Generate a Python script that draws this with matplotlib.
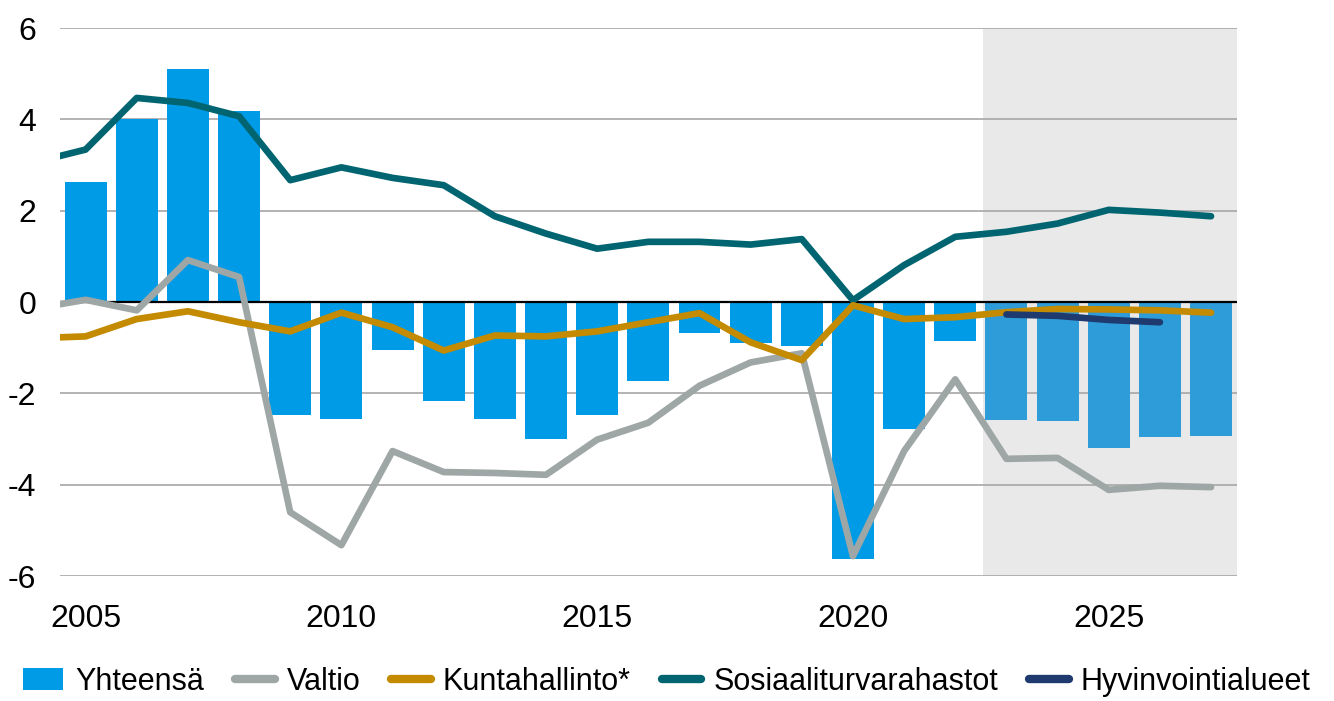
import matplotlib.pyplot as plt
import numpy as np
from matplotlib.patches import Patch
from matplotlib.lines import Line2D

plt.rcParams['font.family'] = ['Liberation Sans', 'DejaVu Sans']

# bars: Yhteensä 2005-2027
bar_years = list(range(2005, 2028))
yhteensa = [2.64, 4.0, 5.1, 4.18, -2.48, -2.56, -1.05, -2.17, -2.56, -3.0,
            -2.46, -1.73, -0.68, -0.90, -0.97, -5.63, -2.77, -0.86,
            -2.59, -2.60, -3.19, -2.95, -2.94]

# lines 2004-2027
line_years = list(range(2004, 2028))
valtio = [-0.14, 0.05, -0.18, 0.92, 0.55, -4.6, -5.32, -3.26, -3.72, -3.74,
          -3.78, -3.01, -2.64, -1.83, -1.32, -1.12, -5.56, -3.26, -1.69,
          -3.43, -3.41, -4.11, -4.02, -4.05]
kunta = [-0.79, -0.75, -0.37, -0.2, -0.44, -0.64, -0.23, -0.55, -1.06, -0.73,
         -0.75, -0.64, -0.44, -0.24, -0.88, -1.27, -0.07, -0.37, -0.33,
         -0.22, -0.15, -0.16, -0.18, -0.23]
sosiaali = [3.06, 3.34, 4.47, 4.36, 4.07, 2.67, 2.95, 2.72, 2.56, 1.88,
            1.5, 1.17, 1.32, 1.32, 1.26, 1.38, 0.04, 0.81, 1.43,
            1.54, 1.72, 2.02, 1.96, 1.88]

hyvinvointi_years = [2023, 2024, 2025, 2026]
hyvinvointi = [-0.27, -0.30, -0.39, -0.44]

forecast_start = 2022.55

fig = plt.figure(figsize=(13.34, 7.01), dpi=100)
ax = fig.add_axes([0.045, 0.178, 0.882, 0.782])

ax.axvspan(forecast_start, 2027.5, color='#E9E9E9', zorder=0, lw=0)
for y in [-6, -4, -2, 2, 4, 6]:
    ax.axhline(y, color='#A6A6A6', lw=1.2, zorder=1)

bar_colors = ['#009BE6' if yr < forecast_start else '#2E9CD8' for yr in bar_years]
ax.bar(bar_years, yhteensa, width=0.82, color=bar_colors, zorder=2)
ax.axhline(0, color='black', lw=1.6, zorder=3)

lw = 4.8
ax.plot(line_years, valtio, color='#9EA7A5', lw=lw, zorder=4, solid_capstyle='round')
ax.plot(line_years, kunta, color='#C48A00', lw=lw, zorder=5, solid_capstyle='round')
ax.plot(line_years, sosiaali, color='#006570', lw=lw, zorder=4, solid_capstyle='round')
ax.plot(hyvinvointi_years, hyvinvointi, color='#1F3A6E', lw=lw, zorder=6, solid_capstyle='round')

ax.set_xlim(2004.5, 2027.5)
ax.set_ylim(-6, 6)
ax.set_xticks([2005, 2010, 2015, 2020, 2025])
ax.set_yticks([-6, -4, -2, 0, 2, 4, 6])
ax.set_yticklabels(['-6', '-4', '-2', '0', '2', '4', '6'])
ax.tick_params(axis='both', length=0, labelsize=23)
ax.tick_params(axis='y', pad=17)
ax.tick_params(axis='x', pad=20)
for s in ax.spines.values():
    s.set_visible(False)

handles = [
    Patch(facecolor='#009BE6', label='Yhteensä'),
    Line2D([], [], color='#9EA7A5', lw=6, solid_capstyle='round', label='Valtio'),
    Line2D([], [], color='#C48A00', lw=6, solid_capstyle='round', label='Kuntahallinto*'),
    Line2D([], [], color='#006570', lw=6, solid_capstyle='round', label='Sosiaaliturvarahastot'),
    Line2D([], [], color='#1F3A6E', lw=6, solid_capstyle='round', label='Hyvinvointialueet'),
]
fig.legend(handles=handles, loc='lower center', bbox_to_anchor=(0.5, -0.033), ncol=5,
           frameon=False, fontsize=22, handlelength=1.3, handletextpad=0.4,
           columnspacing=1.0)

fig.savefig('out.png', dpi=100)
